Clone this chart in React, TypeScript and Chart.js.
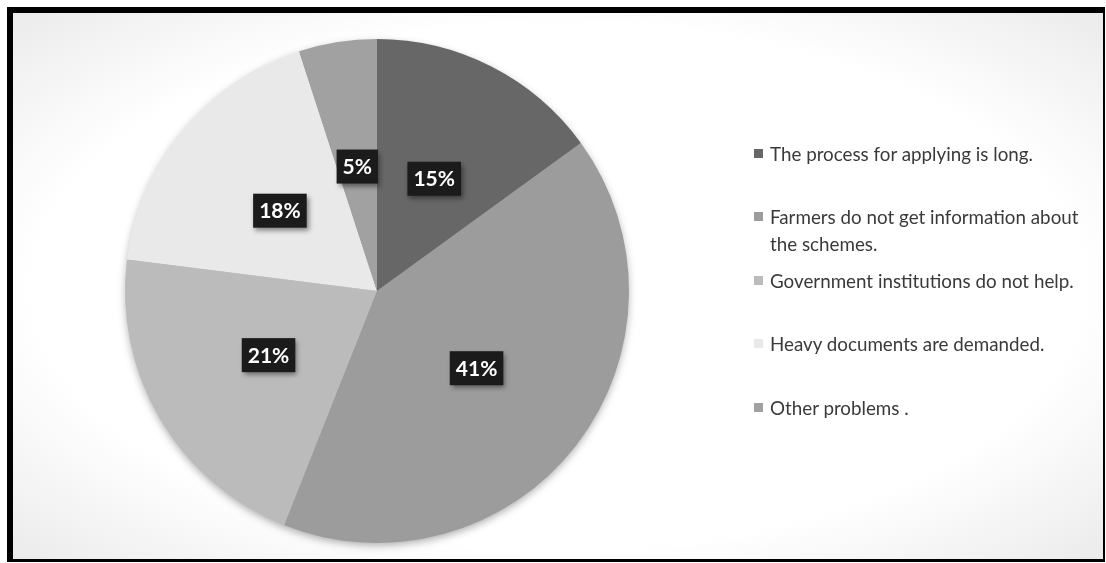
import React, { useEffect, useRef } from "react";
import { Chart, registerables } from "chart.js";

Chart.register(...registerables);

const categories = [
  "The process for applying is long.",
  "Farmers do not get information about the schemes.",
  "Government institutions do not help.",
  "Heavy documents are demanded.",
  "Other problems .",
];
const percentages = [15, 41, 21, 18, 5];
const sliceColors = ["#676767", "#9c9c9c", "#bbbbbb", "#e9e9e9", "#a1a1a1"];

const pieShadowPlugin = {
  id: "pieShadow",
  beforeDatasetsDraw(chart: any) {
    const meta = chart.getDatasetMeta(0);
    const arc: any = meta.data[0];
    if (!arc) return;
    const ctx = chart.ctx;
    ctx.save();
    ctx.shadowColor = "rgba(0,0,0,0.35)";
    ctx.shadowBlur = 8;
    ctx.shadowOffsetY = 3;
    ctx.fillStyle = "#999";
    ctx.beginPath();
    ctx.arc(arc.x, arc.y, arc.outerRadius - 1, 0, Math.PI * 2);
    ctx.fill();
    ctx.restore();
  },
};

const boxLabelPlugin = {
  id: "boxLabels",
  afterDatasetsDraw(chart: any) {
    const ctx = chart.ctx;
    const meta = chart.getDatasetMeta(0);
    ctx.save();
    ctx.font = "bold 21px Lato";
    meta.data.forEach((arc: any, i: number) => {
      const p = arc.tooltipPosition();
      const text = percentages[i] + "%";
      const w = ctx.measureText(text).width + 12;
      const h = 34;
      ctx.shadowColor = "rgba(0,0,0,0.45)";
      ctx.shadowBlur = 5;
      ctx.shadowOffsetX = 2;
      ctx.shadowOffsetY = 3;
      ctx.fillStyle = "#1b1b1b";
      ctx.fillRect(p.x - w / 2, p.y - h / 2, w, h);
      ctx.shadowColor = "transparent";
      ctx.shadowBlur = 0;
      ctx.shadowOffsetX = 0;
      ctx.shadowOffsetY = 0;
      ctx.fillStyle = "#ffffff";
      ctx.textAlign = "center";
      ctx.textBaseline = "middle";
      ctx.fillText(text, p.x, p.y + 1);
    });
    ctx.restore();
  },
};

export default function App() {
  const canvasRef = useRef<HTMLCanvasElement | null>(null);

  useEffect(() => {
    if (!canvasRef.current) return;
    const chart = new Chart(canvasRef.current, {
      type: "pie",
      data: {
        labels: categories,
        datasets: [
          {
            data: percentages,
            backgroundColor: sliceColors,
            borderWidth: 0,
          },
        ],
      },
      options: {
        animation: false,
        responsive: false,
        devicePixelRatio: 1,
        layout: { padding: { left: 125, top: 39, right: 477, bottom: 20 } },
        plugins: {
          legend: { display: false },
          tooltip: { enabled: false },
        },
      },
      plugins: [pieShadowPlugin, boxLabelPlugin],
    });
    return () => chart.destroy();
  }, []);

  return (
    <div style={{ position: "absolute", left: 0, top: 0, width: 1106, height: 563, overflow: "hidden", background: "#fff" }}>
      <div
        style={{
          position: "absolute",
          left: 7,
          top: 7,
          width: 1090,
          height: 546,
          borderStyle: "solid",
          borderColor: "#000",
          borderTopWidth: 6,
          borderLeftWidth: 6,
          borderRightWidth: 2,
          borderBottomWidth: 3,
          background: "radial-gradient(ellipse farthest-corner at 50% 50%, #ffffff 68%, #ebebeb 100%)",
        }}
      />
      <canvas ref={canvasRef} width={1106} height={563} style={{ position: "absolute", left: 0, top: 0 }} />
      <div
        style={{
          position: "absolute",
          left: 754,
          top: 139.5,
          width: 340,
          fontFamily: "Lato, 'Open Sans', sans-serif",
          fontSize: 18.8,
          color: "#3a3a3a",
        }}
      >
        {categories.map((c, i) => (
          <div key={i} style={{ height: 63.5, display: "flex", alignItems: "flex-start" }}>
            <span style={{ flex: "0 0 9px", width: 9, height: 9, marginTop: 9, background: sliceColors[i] }} />
            <span style={{ marginLeft: 7, lineHeight: "27px", width: 324 }}>{c}</span>
          </div>
        ))}
      </div>
    </div>
  );
}
